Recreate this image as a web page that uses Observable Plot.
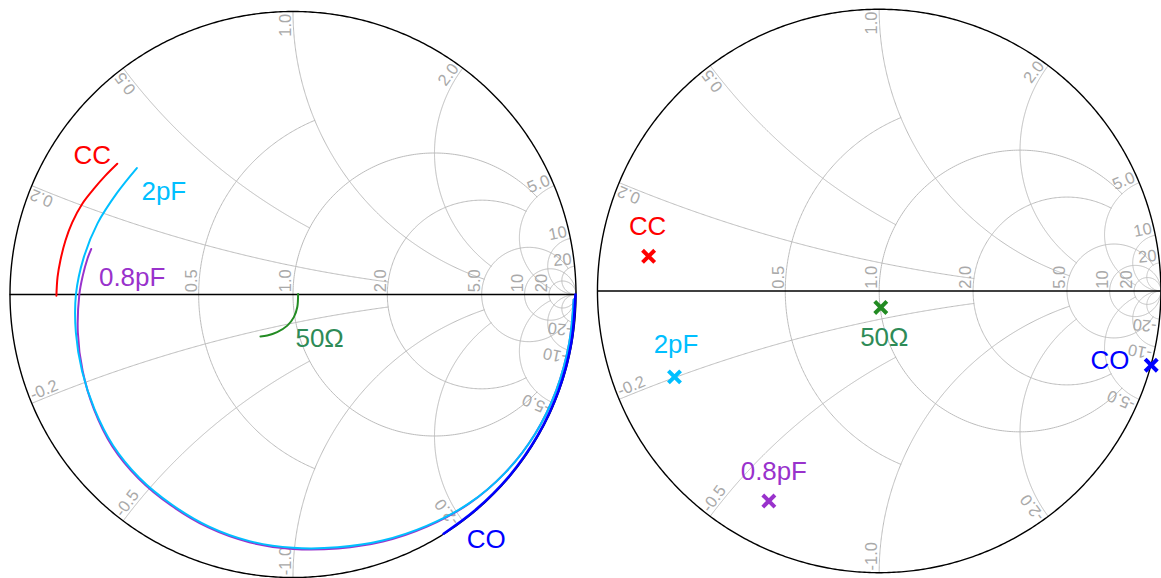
<!DOCTYPE html>
<html><head><meta charset="utf-8">
<script src="https://cdn.jsdelivr.net/npm/d3@7"></script>
<script src="https://cdn.jsdelivr.net/npm/@observablehq/plot@0.6"></script>
<style>
html,body{margin:0;padding:0;background:#fff;overflow:hidden;width:1161px;height:578px}
#left{position:absolute;left:0;top:0;width:586px;height:578px}
#right{position:absolute;left:586px;top:0;width:575px;height:578px;overflow:hidden}
svg{display:block}
</style></head><body>
<div id="left"></div><div id="right"></div>
<script>
// ---- Smith chart grid ticks ----
const resistanceTicks = [0.5, 1, 2, 5, 10, 20];
const resistanceStops = [1, 5, 5, 20, Infinity, Infinity];   // |reactance| where each resistance arc ends
const reactanceTicks  = [0.2, 0.5, 1, 2, 5, 10, 20];
const reactanceStops  = [2, 1, 5, 5, 20, Infinity, Infinity]; // resistance where each reactance arc ends

// ---- Left chart: traces of the reflection coefficient ----
// CC (real / imaginary)
const ccRe = [-0.836,-0.832,-0.822,-0.804,-0.780,-0.745,-0.704,-0.663,-0.621];
const ccIm = [-0.004, 0.061, 0.120, 0.191, 0.255, 0.320, 0.373, 0.420, 0.462];
// 2pF (phase in degrees / magnitude)
const pf2Ang = [141, 150, 160, 170, 180, -170, -160, -150, -140, -130, -120, -110, -100, -90, -80, -70, -60, -50, -40, -30, -20, -10, -1];
const pf2Mag = [0.710, 0.718, 0.735, 0.751, 0.767, 0.779, 0.793, 0.810, 0.830, 0.845, 0.857, 0.872, 0.885, 0.895, 0.907, 0.925, 0.944, 0.965, 0.979, 0.987, 0.990, 0.991, 0.992];
// 0.8pF (phase / magnitude)
const pf08Ang = [167.3, 170, 175, 180, -170, -160, -150, -140, -130, -120, -110, -100, -90, -80, -70, -60, -50, -40, -30, -20, -10, -1];
const pf08Mag = [0.731, 0.737, 0.746, 0.755, 0.772, 0.791, 0.812, 0.834, 0.849, 0.861, 0.876, 0.889, 0.899, 0.911, 0.929, 0.947, 0.966, 0.979, 0.987, 0.990, 0.991, 0.992];
// CO (phase / magnitude)
const coAng = [-57.8, -50, -40, -30, -20, -10, 0];
const coMag = [0.999, 0.998, 0.998, 0.998, 0.998, 0.998, 0.998];
// 50 Ω (real / imaginary)
const loadRe = [0.018, 0.015, 0.003, -0.020, -0.056, -0.091, -0.115];
const loadIm = [0.002, -0.045, -0.080, -0.110, -0.133, -0.145, -0.148];

// ---- Right chart: single points (real / imaginary) ----
const pointNames = ["CC", "2pF", "0.8pF", "50Ω", "CO"];
const pointRe = [-0.8185, -0.7266, -0.3916, 0.0057, 0.9657];
const pointIm = [ 0.1231, -0.3049, -0.7457, -0.0584, -0.2635];

// ---- styles ----
const FONT = "'Liberation Sans', Arial, Helvetica, sans-serif";
const colors = {"CC": "#ff0000", "2pF": "#00bfff", "0.8pF": "#9932cc", "50Ω": "#228b22", "CO": "#0000ff"};
const labelColors = {"CC": "#ff0000", "2pF": "#00bfff", "0.8pF": "#9932cc", "50Ω": "#2e8b57", "CO": "#0000ff"};

function gamma(r, x) { const d = (r + 1) ** 2 + x * x; return [(r * r - 1 + x * x) / d, 2 * x / d]; }
const fmt = v => Math.abs(v) < 10 ? v.toFixed(1) : String(v);
const norm = a => a < 0 ? a + 2 * Math.PI : a;
const fromPolar = (ang, mag) => ang.map((a, i) => ({gx: mag[i] * Math.cos(a * Math.PI / 180), gy: mag[i] * Math.sin(a * Math.PI / 180)}));
const fromCart = (re, im) => re.map((v, i) => ({gx: v, gy: im[i]}));

function gridPoints() {
  const pts = [];
  const n = 300;
  resistanceTicks.forEach((r, i) => {
    const xm = resistanceStops[i];
    const c = r / (r + 1), rho = 1 / (r + 1);
    let phi1 = 0;
    if (isFinite(xm)) { const g = gamma(r, xm); phi1 = Math.atan2(g[1], g[0] - c); }
    for (let k = 0; k <= n; k++) {
      const p = phi1 + (2 * Math.PI - 2 * phi1) * k / n;
      pts.push({gx: c + rho * Math.cos(p), gy: rho * Math.sin(p), id: "r" + r});
    }
  });
  reactanceTicks.forEach((x, i) => {
    const rm = reactanceStops[i];
    const cy = 1 / x, rad = 1 / x;
    const p0 = gamma(0, x);
    const a0 = norm(Math.atan2(p0[1] - cy, p0[0] - 1));
    let a1 = 1.5 * Math.PI;
    if (isFinite(rm)) { const p1 = gamma(rm, x); a1 = norm(Math.atan2(p1[1] - cy, p1[0] - 1)); }
    for (const s of [1, -1]) {
      for (let k = 0; k <= n; k++) {
        const a = a0 + (a1 - a0) * k / n;
        pts.push({gx: 1 + rad * Math.cos(a), gy: s * (cy + rad * Math.sin(a)), id: "x" + s * x});
      }
    }
  });
  return pts;
}

function tickRows() {
  const rows = [];
  const pull = 0.008, lift = 0.008;
  resistanceTicks.forEach(r => rows.push({gx: (r - 1) / (r + 1) - 0.006, gy: 0.008, text: fmt(r), rot: -90, anchor: "start"}));
  reactanceTicks.forEach(x => {
    const p = gamma(0, x);
    let tx = (x * x - 1) / x, ty = 2; const L = Math.hypot(tx, ty); tx /= L; ty /= L;
    const th = Math.atan2(-ty, tx);
    rows.push({gx: p[0] - tx * pull + Math.sin(th) * lift, gy: p[1] - ty * pull + Math.cos(th) * lift,
               text: fmt(x), rot: th * 180 / Math.PI, anchor: "end"});
    const thn = Math.atan2(-ty, -tx);
    rows.push({gx: p[0] - tx * pull + Math.sin(thn) * lift, gy: -p[1] + ty * pull + Math.cos(thn) * lift,
               text: fmt(-x), rot: thn * 180 / Math.PI, anchor: "start"});
  });
  return rows;
}

const unitCircle = d3.range(0, 721).map(k => ({gx: Math.cos(k * Math.PI / 360), gy: Math.sin(k * Math.PI / 360)}));
const GRID = gridPoints();
const TICKS = tickRows();

function baseMarks() {
  return [
    Plot.line(GRID, {x: "gx", y: "gy", z: "id", stroke: "#bcbcbc", strokeWidth: 1}),
    Plot.text(TICKS.filter(d => d.anchor === "start"), {x: "gx", y: "gy", text: "text", rotate: "rot", textAnchor: "start", lineAnchor: "bottom", fill: "#a9a9a9", fontSize: 16.5, fontFamily: FONT}),
    Plot.text(TICKS.filter(d => d.anchor === "end"), {x: "gx", y: "gy", text: "text", rotate: "rot", textAnchor: "end", lineAnchor: "bottom", fill: "#a9a9a9", fontSize: 16.5, fontFamily: FONT}),
    Plot.ruleY([0], {x1: -1, x2: 1, stroke: "#000", strokeWidth: 1.3}),
    Plot.line(unitCircle, {x: "gx", y: "gy", stroke: "#000", strokeWidth: 1.4})
  ];
}

function makePlot(marks, layout) {
  return Plot.plot({
    width: layout.width, height: 578,
    marginLeft: layout.ml, marginRight: layout.mr, marginTop: layout.mt, marginBottom: layout.mb,
    x: {domain: [-1, 1], axis: null},
    y: {domain: [-1, 1], axis: null},
    style: {background: "transparent", overflow: "visible"},
    marks: [...baseMarks(), ...marks]
  });
}

// ---- left chart ----
const traces = [
  {name: "CC", rows: fromCart(ccRe, ccIm), w: 2, anchor: "last", dx: -25, dy: -8},
  {name: "0.8pF", rows: fromPolar(pf08Ang, pf08Mag), w: 2, anchor: "first", dx: 41, dy: 29},
  {name: "2pF", rows: fromPolar(pf2Ang, pf2Mag), w: 2, anchor: "first", dx: 27, dy: 24},
  {name: "CO", rows: fromPolar(coAng, coMag), w: 2.6, anchor: "first", dx: 42.5, dy: 6},
  {name: "50Ω", rows: fromCart(loadRe, loadIm), w: 2, anchor: "first", dx: 21.5, dy: 45}
];
const leftMarks = [];
traces.forEach(t => {
  leftMarks.push(Plot.line(t.rows, {x: "gx", y: "gy", stroke: colors[t.name], strokeWidth: t.w, curve: "catmull-rom"}));
});
traces.forEach(t => {
  const p = t.anchor === "first" ? t.rows[0] : t.rows[t.rows.length - 1];
  leftMarks.push(Plot.text([{...p, label: t.name}], {x: "gx", y: "gy", text: "label", dx: t.dx, dy: t.dy, fill: labelColors[t.name], fontSize: 26, fontFamily: FONT}));
});
document.getElementById("left").append(makePlot(leftMarks, {width: 586, ml: 9.5, mr: 10.5, mt: 11, mb: 1}));

// ---- right chart ----
const offsets = {"CC": [-1, -30], "2pF": [1.5, -32.5], "0.8pF": [5, -29], "50Ω": [3.5, 30], "CO": [-41.5, -4.5]};
const rightMarks = [];
pointNames.forEach((name, i) => {
  const row = [{gx: pointRe[i], gy: pointIm[i], label: name}];
  rightMarks.push(Plot.dot(row, {x: "gx", y: "gy", symbol: "times", r: 5.6, stroke: colors[name], strokeWidth: 4}));
  rightMarks.push(Plot.text(row, {x: "gx", y: "gy", text: "label", dx: offsets[name][0], dy: offsets[name][1], fill: labelColors[name], fontSize: 26, fontFamily: FONT}));
});
document.getElementById("right").append(makePlot(rightMarks, {width: 577, ml: 11, mr: 0.6, mt: 8.8, mb: 3.8}));
</script>
</body></html>
